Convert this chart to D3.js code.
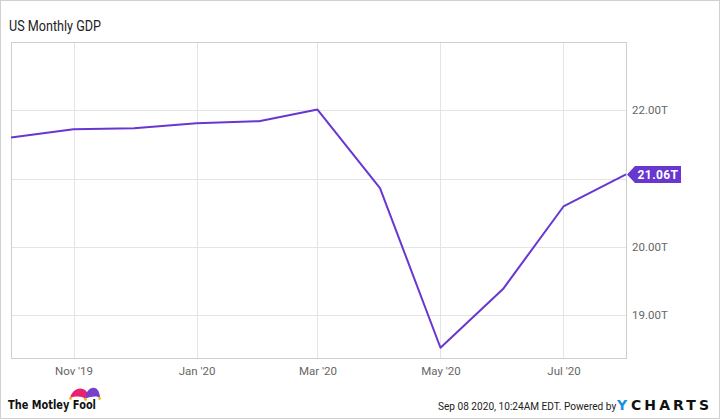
<!DOCTYPE html>
<html>
<head>
<meta charset="utf-8">
<script src="https://cdn.jsdelivr.net/npm/d3@7"></script>
<style>
  body { margin: 0; background: #fff; }
  svg { display: block; font-family: Roboto, "Open Sans", sans-serif; }
</style>
</head>
<body>
<svg width="720" height="419"></svg>
<script>
// monthly GDP, trillions USD
const months = ["2019-10", "2019-11", "2019-12", "2020-01", "2020-02", "2020-03",
                "2020-04", "2020-05", "2020-06", "2020-07", "2020-08"];
const gdp = [21.60, 21.72, 21.735, 21.81, 21.84, 22.01, 20.86, 18.52, 19.38, 20.59, 21.06];
const yTicks = [19, 20, 21, 22];
const xTicks = ["2019-11", "2020-01", "2020-03", "2020-05", "2020-07"];

const parseMonth = d3.timeParse("%Y-%m");
const data = months.map((m, i) => ({ date: parseMonth(m), value: gdp[i] }));

const svg = d3.select('svg');
const W = 720, H = 419;
const plot = { left: 11, right: 626, top: 42, bottom: 358 };

// outer frame
svg.append('rect')
  .attr('x', 0.5).attr('y', 0.5)
  .attr('width', W - 1).attr('height', H - 1)
  .attr('fill', 'none').attr('stroke', '#d0d0d0');

svg.append('text')
  .attr('x', 9).attr('y', 31)
  .attr('font-size', 14.5)
  .attr('fill', '#222')
  .attr('textLength', 92)
  .attr('lengthAdjust', 'spacingAndGlyphs')
  .text('US Monthly GDP');

const xScale = d3.scaleTime()
  .domain(d3.extent(data, d => d.date))
  .range([plot.left, plot.right]);

const yScale = d3.scaleLinear()
  .domain([18.37, 23.0])
  .range([plot.bottom, plot.top]);

// grid
svg.append('g').selectAll('line').data(yTicks).enter()
  .append('line')
  .attr('x1', plot.left).attr('x2', plot.right)
  .attr('y1', d => Math.round(yScale(d)) + 0.5)
  .attr('y2', d => Math.round(yScale(d)) + 0.5)
  .attr('stroke', '#e4e4e4');

svg.append('g').selectAll('line').data(xTicks).enter()
  .append('line')
  .attr('x1', d => Math.round(xScale(parseMonth(d))) + 0.5)
  .attr('x2', d => Math.round(xScale(parseMonth(d))) + 0.5)
  .attr('y1', plot.top).attr('y2', plot.bottom)
  .attr('stroke', '#e4e4e4');

// plot frame
svg.append('rect')
  .attr('x', plot.left + 0.5).attr('y', plot.top + 0.5)
  .attr('width', plot.right - plot.left).attr('height', plot.bottom - plot.top)
  .attr('fill', 'none').attr('stroke', '#cfcfcf');

// right axis labels (21.00T hidden behind the last-value flag)
const yAxis = d3.axisRight(yScale)
  .tickValues(yTicks.filter(d => d !== 21))
  .tickSize(0)
  .tickPadding(6)
  .tickFormat(d => d3.format('.2f')(d) + 'T');

svg.append('g')
  .attr('transform', `translate(${plot.right}, 0)`)
  .call(yAxis)
  .call(g => g.select('.domain').remove())
  .call(g => g.selectAll('text').attr('fill', '#666').attr('font-size', 11.5).attr('font-family', 'Roboto, sans-serif'));

const fmtX = d3.timeFormat("%b '%y");
const xAxis = d3.axisBottom(xScale)
  .tickValues(xTicks.map(parseMonth))
  .tickSize(0)
  .tickPadding(9)
  .tickFormat(fmtX);

svg.append('g')
  .attr('transform', `translate(0, ${plot.bottom})`)
  .call(xAxis)
  .call(g => g.select('.domain').remove())
  .call(g => g.selectAll('text').attr('fill', '#666').attr('font-size', 11.5).attr('font-family', 'Roboto, sans-serif'));

// line
const line = d3.line()
  .x(d => xScale(d.date))
  .y(d => yScale(d.value));

svg.append('path')
  .datum(data)
  .attr('d', line)
  .attr('fill', 'none')
  .attr('stroke', '#6737d0')
  .attr('stroke-width', 2)
  .attr('stroke-linejoin', 'round');

// last value flag
const last = data[data.length - 1];
const fx = xScale(last.date) + 1, fy = yScale(last.value);
const flag = svg.append('g').attr('transform', `translate(${fx}, ${fy})`);
flag.append('path')
  .attr('d', 'M0,0 L8,-8.5 L54,-8.5 L54,8.5 L8,8.5 Z')
  .attr('fill', '#6737d0');
flag.append('text')
  .attr('x', 31).attr('y', 4.5)
  .attr('text-anchor', 'middle')
  .attr('fill', '#fff')
  .attr('font-size', 12)
  .attr('font-weight', 'bold')
  .attr('letter-spacing', 0.4)
  .text(d3.format('.2f')(last.value) + 'T');

// Motley Fool logo
const fool = svg.append('g').attr('transform', 'translate(8, 409)');
fool.append('text')
  .attr('x', 0).attr('y', 0)
  .attr('font-family', '"DejaVu Sans", sans-serif')
  .attr('font-weight', 'bold')
  .attr('font-size', 11.5)
  .attr('textLength', 88)
  .attr('lengthAdjust', 'spacingAndGlyphs')
  .attr('fill', '#111')
  .text('The Motley Fool');
// jester hat: two horns
fool.append('path')
  .attr('d', 'M62,-11 C64,-19 71,-23 77,-19 C79,-17 80,-16 80,-14 C78,-13 77,-12 77,-10 C74,-13 68,-13 62,-11 Z')
  .attr('fill', '#e8226e');
fool.append('path')
  .attr('d', 'M77,-10 C78,-18 82,-22 87,-21 C90,-20 92,-16 92,-11 C89,-13 84,-13 77,-10 Z')
  .attr('fill', '#7a3fc9');
fool.append('circle').attr('cx', 62.5).attr('cy', -10.5).attr('r', 1.4).attr('fill', '#f5b800');
fool.append('circle').attr('cx', 77.5).attr('cy', -9.5).attr('r', 1.4).attr('fill', '#f5b800');
fool.append('circle').attr('cx', 91.5).attr('cy', -10.5).attr('r', 1.4).attr('fill', '#f5b800');

// footer
svg.append('text')
  .attr('x', 438).attr('y', 410)
  .attr('font-size', 10.1)
  .attr('fill', '#222')
  .text('Sep 08 2020, 10:24AM EDT. Powered by');

// YCHARTS wordmark
svg.append('text')
  .attr('x', 617).attr('y', 409.5)
  .attr('font-size', 14)
  .attr('font-weight', 'bold')
  .attr('font-family', '"DejaVu Sans", sans-serif')
  .attr('fill', '#1a8fe0')
  .text('Y');
svg.append('text')
  .attr('x', 631).attr('y', 409.5)
  .attr('font-size', 14)
  .attr('font-weight', 'bold')
  .attr('textLength', 78)
  .attr('lengthAdjust', 'spacing')
  .attr('font-family', '"DejaVu Sans", sans-serif')
  .attr('fill', '#111')
  .text('CHARTS');
</script>
</body>
</html>
